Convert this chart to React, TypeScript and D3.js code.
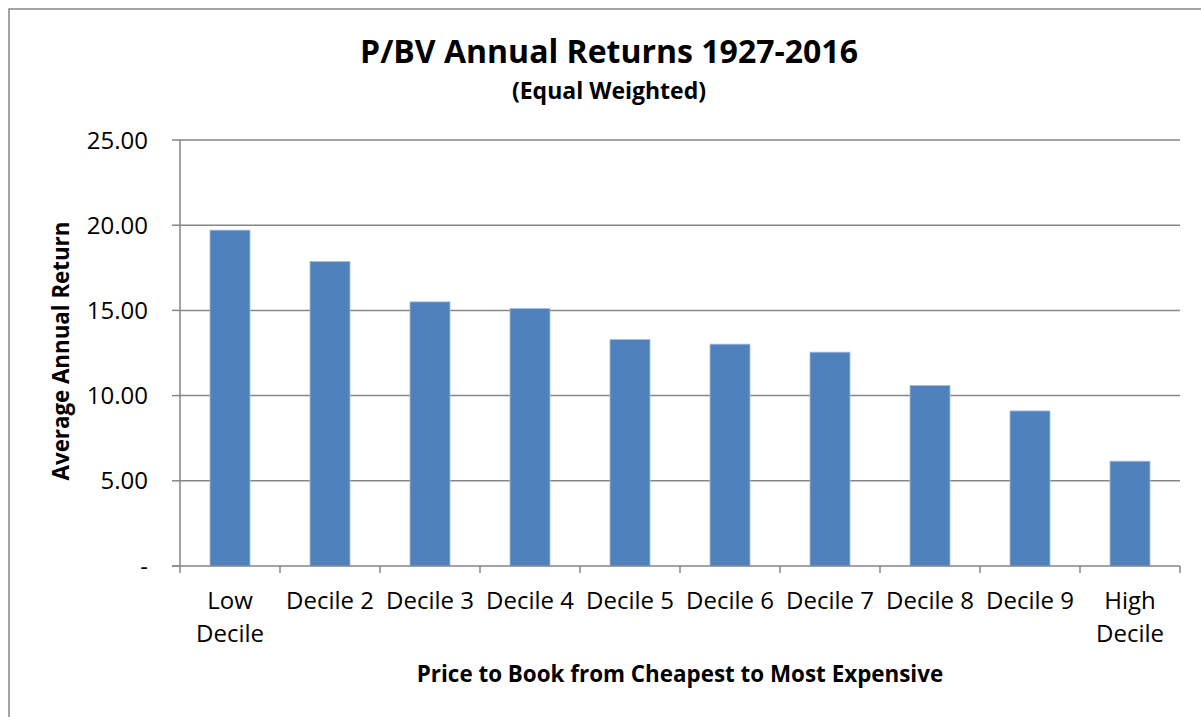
import React, { useEffect, useRef } from "react";
import * as d3 from "d3";

const categories: string[][] = [
  ["Low", "Decile"],
  ["Decile 2"],
  ["Decile 3"],
  ["Decile 4"],
  ["Decile 5"],
  ["Decile 6"],
  ["Decile 7"],
  ["Decile 8"],
  ["Decile 9"],
  ["High", "Decile"],
];
const values: number[] = [19.71, 17.87, 15.5, 15.11, 13.29, 13.02, 12.55, 10.59, 9.1, 6.15];
const yTicks: number[] = [0, 5, 10, 15, 20, 25];
const title = "P/BV Annual Returns 1927-2016";
const subtitle = "(Equal Weighted)";
const xTitle = "Price to Book from Cheapest to Most Expensive";
const yTitle = "Average Annual Return";

const W = 1201;
const H = 717;
const FONT = "'Open Sans', Lato, sans-serif";

export default function App() {
  const ref = useRef<SVGSVGElement>(null);
  useEffect(() => {
    const svg = d3.select(ref.current);
    svg.selectAll("*").remove();
    const left = 180, right = 1180, top = 140, bottom = 566;
    const x = d3.scaleBand<number>().domain(d3.range(categories.length)).range([left, right]).paddingInner(0.6).paddingOuter(0.3);
    const y = d3.scaleLinear().domain([0, 25]).range([bottom, top]);

    svg.append("rect").attr("x", 0).attr("y", 0).attr("width", W).attr("height", H).attr("fill", "white");
    // frame
    svg.append("path").attr("d", `M9,${H + 5} V9 H${W + 5}`).attr("fill", "none").attr("stroke", "#868686").attr("stroke-width", 1.5);

    // gridlines
    svg.append("g").selectAll("line").data(yTicks.filter((t) => t > 0)).join("line")
      .attr("x1", left).attr("x2", right).attr("y1", (d) => y(d)).attr("y2", (d) => y(d))
      .attr("stroke", "#868686").attr("stroke-width", 1.5);

    // bars
    svg.append("g").selectAll("rect").data(values).join("rect")
      .attr("x", (_, i) => x(i)!).attr("width", x.bandwidth())
      .attr("y", (d) => y(d)).attr("height", (d) => y(0) - y(d))
      .attr("fill", "#4F81BD").attr("stroke", "#A7BFDE").attr("stroke-width", 0.8);

    // axes lines
    svg.append("line").attr("x1", left).attr("x2", left).attr("y1", top).attr("y2", bottom).attr("stroke", "#868686").attr("stroke-width", 1.5);
    svg.append("line").attr("x1", left - 8).attr("x2", right).attr("y1", bottom).attr("y2", bottom).attr("stroke", "#868686").attr("stroke-width", 1.5);
    // y ticks
    svg.append("g").selectAll("line").data(yTicks).join("line")
      .attr("x1", left - 8).attr("x2", left).attr("y1", (d) => y(d)).attr("y2", (d) => y(d))
      .attr("stroke", "#868686").attr("stroke-width", 1.5);
    // x ticks at boundaries
    const step = x.step();
    svg.append("g").selectAll("line").data(d3.range(categories.length + 1)).join("line")
      .attr("x1", (i) => left + i * step).attr("x2", (i) => left + i * step)
      .attr("y1", bottom).attr("y2", bottom + 7)
      .attr("stroke", "#868686").attr("stroke-width", 1.5);

    // y labels
    svg.append("g").selectAll("text").data(yTicks).join("text")
      .attr("x", 148).attr("y", (d) => y(d)).attr("dy", "0.36em")
      .attr("text-anchor", "end").attr("font-family", FONT).attr("font-size", 24).attr("fill", "#000")
      .text((d) => (d === 0 ? "-" : d3.format(".2f")(d)));

    // x labels
    const xl = svg.append("g").selectAll("text").data(categories).join("text")
      .attr("text-anchor", "middle").attr("font-family", FONT).attr("font-size", 24).attr("fill", "#000");
    xl.each(function (lines, i) {
      const t = d3.select(this);
      lines.forEach((ln, j) => {
        t.append("tspan").attr("x", x(i)! + x.bandwidth() / 2).attr("y", 609 + j * 33).text(ln);
      });
    });

    // titles
    svg.append("text").attr("x", 609).attr("y", 63).attr("text-anchor", "middle")
      .attr("font-family", FONT).attr("font-weight", "bold").attr("font-size", 32).text(title);
    svg.append("text").attr("x", 609).attr("y", 99).attr("text-anchor", "middle")
      .attr("font-family", FONT).attr("font-weight", "bold").attr("font-size", 23).text(subtitle);
    svg.append("text").attr("x", 680).attr("y", 682).attr("text-anchor", "middle")
      .attr("font-family", FONT).attr("font-weight", "bold").attr("font-size", 22.4).text(xTitle);
    svg.append("text").attr("transform", `translate(69,351) rotate(-90)`).attr("text-anchor", "middle")
      .attr("font-family", FONT).attr("font-weight", "bold").attr("font-size", 22.3).text(yTitle);
  }, []);
  return (
    <svg ref={ref} width={W} height={H} style={{ position: "absolute", left: 0, top: 0, display: "block" }} />
  );
}
